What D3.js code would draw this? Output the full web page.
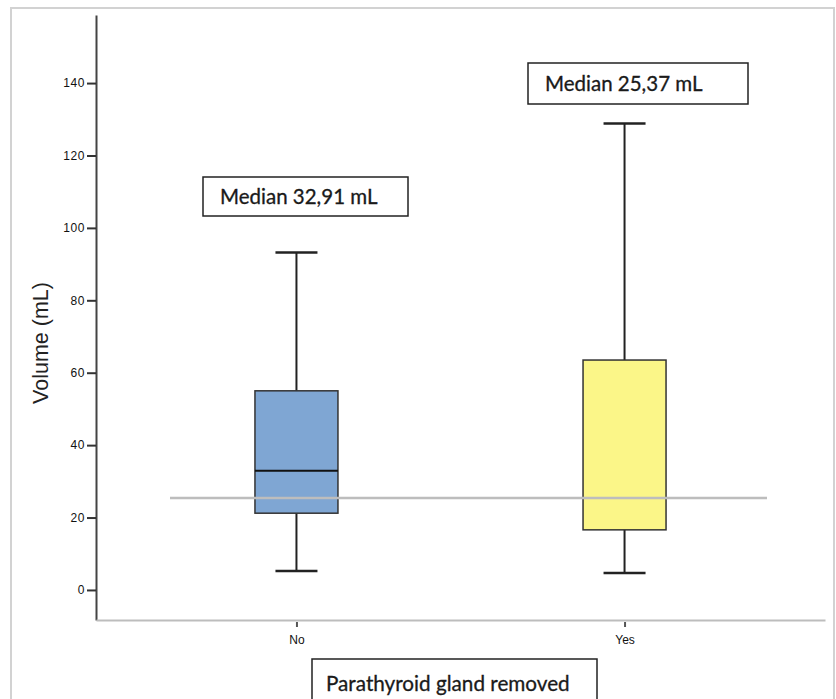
<!DOCTYPE html>
<html>
<head>
<meta charset="utf-8">
<script src="https://cdn.jsdelivr.net/npm/d3@7"></script>
<style>
  body { margin: 0; background: #fff; }
  svg { display: block; }
</style>
</head>
<body>
<div id="container"></div>
<script>
// data
var groups = ["No", "Yes"];
var whiskerLow = [5.2, 4.7];
var q1 = [21.2, 16.6];
var medians = [32.91, 25.37];
var q3 = [55.0, 63.5];
var whiskerHigh = [93.2, 128.8];
var boxColors = ["#7fa6d3", "#fbf688"];
var yTicks = [0, 20, 40, 60, 80, 100, 120, 140];
var refValue = 25.37;
var notes = ["Median 32,91 mL", "Median 25,37 mL"];

var width = 836, height = 699;
var svg = d3.select("#container").append("svg")
    .attr("width", width)
    .attr("height", height);

// outer frame
svg.append("rect")
    .attr("x", 11).attr("y", 8)
    .attr("width", 823).attr("height", 720)
    .attr("fill", "none")
    .attr("stroke", "#d2d2d2")
    .attr("stroke-width", 2);

var y = d3.scaleLinear().domain([-8.3, 158.8]).range([620, 15]);
var x = d3.scalePoint().domain(groups).range([96, 825]).padding(0.611);

// y axis
var yAxis = svg.append("g")
    .attr("transform", "translate(96,0)")
    .call(d3.axisLeft(y).tickValues(yTicks).tickSize(9).tickSizeOuter(0));
yAxis.select(".domain").attr("stroke", "#444").attr("stroke-width", 2);
yAxis.selectAll(".tick line").attr("stroke", "#333").attr("stroke-width", 2);
yAxis.selectAll(".tick text")
    .attr("x", -11)
    .style("font-family", "Liberation Sans, Arial, sans-serif")
    .style("font-size", "12px")
    .style("letter-spacing", "0.6px")
    .attr("fill", "#111");

// x axis
var xAxis = svg.append("g")
    .attr("transform", "translate(0,620)")
    .call(d3.axisBottom(x).tickSize(7).tickSizeOuter(0));
xAxis.select(".domain").attr("stroke", "#bdbdbd").attr("stroke-width", 2);
xAxis.selectAll(".tick line").attr("stroke", "#555").attr("stroke-width", 2).attr("y1", 2);
xAxis.selectAll(".tick text")
    .attr("y", 15)
    .style("font-family", "Liberation Sans, Arial, sans-serif")
    .style("font-size", "12px")
    .attr("fill", "#111");

// boxes
var boxW = 83, capW = 42;
var bx = svg.append("g");
groups.forEach(function(g, i) {
  var cx = x(g);
  bx.append("line")
      .attr("x1", cx).attr("x2", cx)
      .attr("y1", y(whiskerHigh[i])).attr("y2", y(q3[i]))
      .attr("stroke", "#222").attr("stroke-width", 2);
  bx.append("line")
      .attr("x1", cx).attr("x2", cx)
      .attr("y1", y(q1[i])).attr("y2", y(whiskerLow[i]))
      .attr("stroke", "#222").attr("stroke-width", 2);
  [whiskerHigh[i], whiskerLow[i]].forEach(function(v) {
    bx.append("line")
        .attr("x1", cx - capW / 2).attr("x2", cx + capW / 2)
        .attr("y1", y(v)).attr("y2", y(v))
        .attr("stroke", "#222").attr("stroke-width", 2.5);
  });
  bx.append("rect")
      .attr("x", cx - boxW / 2)
      .attr("y", y(q3[i]))
      .attr("width", boxW)
      .attr("height", y(q1[i]) - y(q3[i]))
      .attr("fill", boxColors[i])
      .attr("stroke", "#333").attr("stroke-width", 1.5);
  bx.append("line")
      .attr("x1", cx - boxW / 2).attr("x2", cx + boxW / 2)
      .attr("y1", y(medians[i])).attr("y2", y(medians[i]))
      .attr("stroke", "#111").attr("stroke-width", 2);
});

// reference line
svg.append("line")
    .attr("x1", 170).attr("x2", 767)
    .attr("y1", y(refValue)).attr("y2", y(refValue))
    .attr("stroke", "#bdbdbd").attr("stroke-width", 2.5);

// y title
svg.append("text")
    .attr("transform", "translate(48,343) rotate(-90)")
    .attr("text-anchor", "middle")
    .style("font-family", "Liberation Sans, Arial, sans-serif")
    .style("font-size", "21.5px")
    .attr("fill", "#222")
    .text("Volume (mL)");

// annotation boxes
function noteBox(x0, y0, w, h, label) {
  svg.append("rect")
      .attr("x", x0).attr("y", y0)
      .attr("width", w).attr("height", h)
      .attr("fill", "#fff")
      .attr("stroke", "#222").attr("stroke-width", 1.5);
  svg.append("text")
      .attr("x", x0 + 17).attr("y", y0 + h / 2 + 7)
      .style("font-family", "Lato, sans-serif")
      .style("font-size", "20.5px")
      .attr("fill", "#1a1a1a")
      .attr("stroke", "#1a1a1a").attr("stroke-width", 0.3)
      .text(label);
}
noteBox(203, 177, 205, 39, notes[0]);
noteBox(528, 63, 220, 41, notes[1]);
noteBox(312, 659, 285, 60, "");
svg.append("text")
    .attr("x", 326).attr("y", 691)
    .style("font-family", "Lato, sans-serif")
    .style("font-size", "20.7px")
    .attr("fill", "#1a1a1a")
    .attr("stroke", "#1a1a1a").attr("stroke-width", 0.3)
    .text("Parathyroid gland removed");
</script>
</body>
</html>
